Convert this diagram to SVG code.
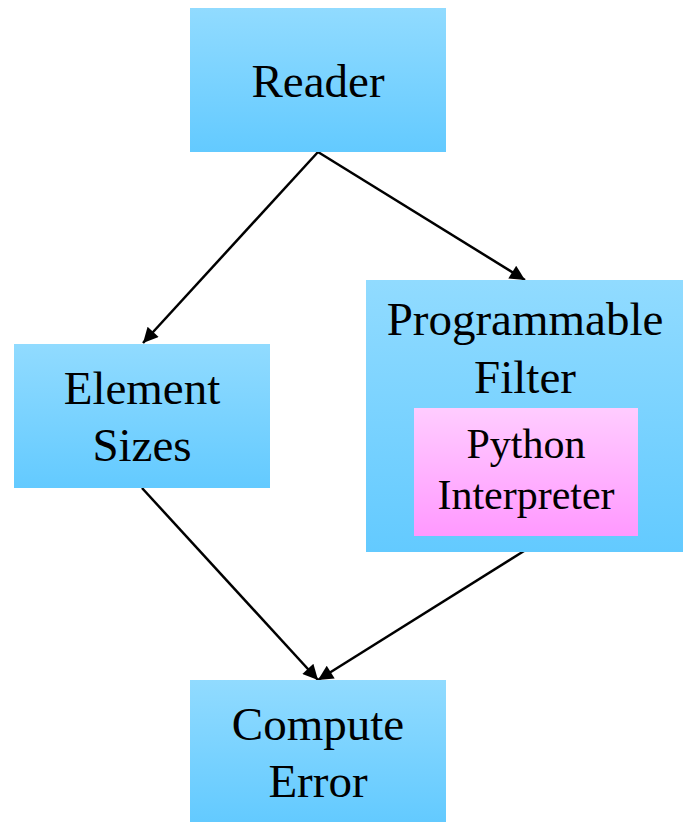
<svg xmlns="http://www.w3.org/2000/svg" width="683" height="822" viewBox="0 0 683 822">
  <defs>
    <linearGradient id="blueFill" x1="0" y1="0" x2="0" y2="1">
      <stop offset="0" stop-color="#91dbff"/>
      <stop offset="1" stop-color="#63caff"/>
    </linearGradient>
    <linearGradient id="pinkFill" x1="0" y1="0" x2="0" y2="1">
      <stop offset="0" stop-color="#ffccff"/>
      <stop offset="1" stop-color="#ff99ff"/>
    </linearGradient>
    <marker id="arrow" viewBox="0 0 10 10" refX="10" refY="5" markerWidth="7" markerHeight="6" markerUnits="strokeWidth" orient="auto">
      <path d="M0,0 L10,5 L0,10 z" fill="#000"/>
    </marker>
    <style>
      .box { fill: url(#blueFill); }
      .inner { fill: url(#pinkFill); }
      text { font-family: 'Liberation Serif', 'Times New Roman', serif; font-size: 47px; fill: #000; text-anchor: middle; }
      .small { font-size: 42px; }
      .edge { stroke: #000; stroke-width: 2.5; fill: none; marker-end: url(#arrow); }
    </style>
  </defs>

  <g id="connectors">
    <line class="edge" x1="318" y1="152" x2="143" y2="343"/>
    <line class="edge" x1="318" y1="152" x2="525" y2="280"/>
    <line class="edge" x1="142" y1="488" x2="318" y2="680"/>
    <line class="edge" x1="524" y1="551" x2="318" y2="680"/>
    <line class="edge" x1="684" y1="506" x2="638" y2="472"/>
  </g>

  <g id="reader">
    <rect class="box" x="190" y="8" width="256" height="144"/>
    <text x="318" y="97">Reader</text>
  </g>

  <g id="element-sizes">
    <rect class="box" x="14" y="344" width="256" height="144"/>
    <text x="142" y="404">Element</text>
    <text x="142" y="461">Sizes</text>
  </g>

  <g id="programmable-filter">
    <rect class="box" x="366" y="280" width="317" height="272"/>
    <text x="525" y="335">Programmable</text>
    <text x="525" y="393">Filter</text>
  </g>

  <g id="python-interpreter">
    <rect class="inner" x="414" y="408" width="224" height="128"/>
    <text class="small" x="526" y="458">Python</text>
    <text class="small" x="526" y="509">Interpreter</text>
  </g>

  <g id="compute-error">
    <rect class="box" x="190" y="680" width="256" height="142"/>
    <text x="318" y="740">Compute</text>
    <text x="318" y="797">Error</text>
  </g>
</svg>
